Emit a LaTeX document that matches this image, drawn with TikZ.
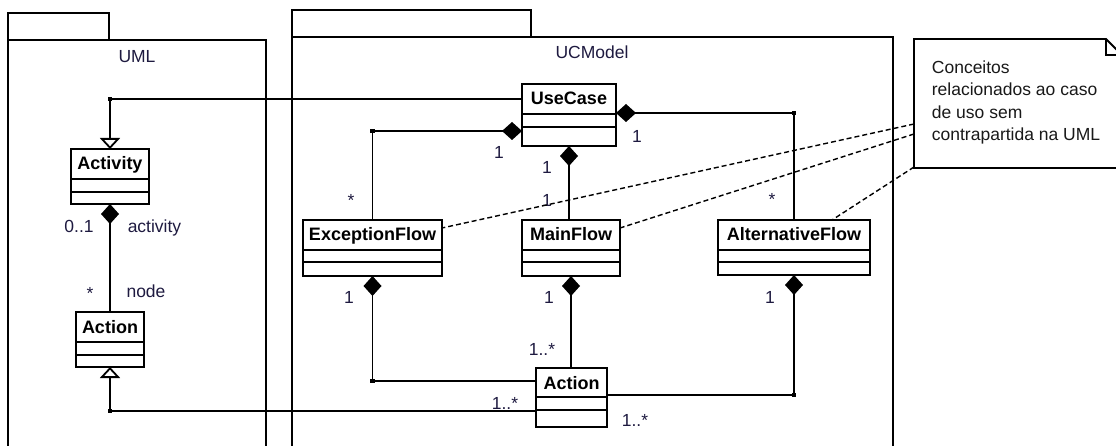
\documentclass[tikz,border=0pt]{standalone}
\usepackage{fontspec}
\setmainfont{Liberation Sans}
\usetikzlibrary{arrows.meta,calc}
\definecolor{ink}{HTML}{1E1A40}

\tikzset{
  pkg/.style={draw, rectangle, inner sep=0pt, outer sep=0pt},
  clsbox/.style={draw, fill=white, rectangle, inner sep=0pt, outer sep=0pt},
  clsname/.style={font=\bfseries\fontsize{18}{21}\selectfont, inner sep=0pt, anchor=base},
  lbl/.style={font=\fontsize{17.5}{21}\selectfont, text=ink, inner sep=0pt, anchor=base},
  notetext/.style={font=\fontsize{17.5}{22.6}\selectfont, align=left, inner sep=0pt, text=black!90},
  comp/.style={{Diamond[length=20pt,width=18pt]}-},
  gen/.style={-{Triangle[open,length=11pt,width=20pt]}},
  jdot/.style={rectangle, fill=black, inner sep=0pt, minimum size=4.5pt},
  notelink/.style={dash pattern=on 5pt off 3pt, line width=1.4pt},
}

% #1 name, #2 x, #3 y (top left), #4 width,
% #5 #6 #7 compartment heights, #8 class name
\newcommand{\umlclass}[8]{%
  \node[clsbox, anchor=north west, minimum width=#4pt,
        minimum height={#5pt+#6pt+#7pt}] (#1) at (#2,#3) {};
  \node[clsname] (#1-name) at ([yshift=-21pt]#1.north) {#8};
  \draw ([yshift=-#5pt]#1.north west) -- ([yshift=-#5pt]#1.north east);
  \draw ([yshift=-#5pt-#6pt]#1.north west) -- ([yshift=-#5pt-#6pt]#1.north east);
}

\begin{document}
\begin{tikzpicture}[x=1pt, y=-1pt, line width=1.8pt]
\useasboundingbox (0,0) rectangle (1116,446);
\clip (0,0) rectangle (1116,446);

% packages
\node[pkg, anchor=north west, minimum width=258pt, minimum height=440pt] (umlpkg) at (8,40) {};
\node[pkg, anchor=south west, minimum width=101pt, minimum height=27pt] (umltab) at (umlpkg.north west) {};
\node[lbl] (umllbl) at (137,63) {UML};

\node[pkg, anchor=north west, minimum width=601pt, minimum height=440pt] (ucpkg) at (292,37) {};
\node[pkg, anchor=south west, minimum width=239pt, minimum height=27pt] (uctab) at (ucpkg.north west) {};
\node[lbl] (uclbl) at (592,59) {UCModel};

% classes
\umlclass{act}{71}{149}{78}{30}{13}{12}{Activity}
\umlclass{uact}{76}{312}{68}{30}{13}{12}{Action}
\umlclass{uc}{522}{84}{94}{30}{13}{19}{UseCase}
\umlclass{ef}{303}{220}{139}{30}{12}{14}{ExceptionFlow}
\umlclass{mf}{522}{220}{98}{30}{12}{14}{MainFlow}
\umlclass{af}{718}{220}{152}{30}{12}{13}{AlternativeFlow}
\umlclass{ucact}{536}{368}{71}{29}{13}{17}{Action}

% attachment points on the class borders
\coordinate (ucg)  at ([yshift=-15pt]uc.north west);
\coordinate (ucl)  at ([yshift=15pt]uc.south west);
\coordinate (ucr)  at ([yshift=-29pt]uc.north east);
\coordinate (ucag) at ([yshift=16pt]ucact.south west);
\coordinate (ucaw) at ([yshift=-13pt]ucact.north west);
\coordinate (ucae) at ([yshift=-27pt]ucact.north east);

% generalizations
\draw[gen] (ucg) -- (ucg -| act.north) -- (act.north);
\draw[gen] (ucag) -- (ucag -| uact.south) -- (uact.south);

% compositions
\draw[comp] (act.south) -- (uact.north);
\draw[comp] (ucl) -- (ucl -| ef.north) -- (ef.north);
\draw[comp] (uc.south) -- (uc.south |- mf.north);
\draw[comp] (ucr) -- (ucr -| af.north) -- (af.north);
\draw[comp] (ef.south) -- (ef.south |- ucaw) -- (ucaw);
\draw[comp] (mf.south) -- (mf.south |- ucact.north);
\draw[comp] (af.south) -- (af.south |- ucae) -- (ucae);

% junction dots
\node[jdot] (j1) at (ucg -| act.north) {};
\node[jdot] (j2) at (ucag -| uact.south) {};
\node[jdot] (j3) at (ucl -| ef.north) {};
\node[jdot] (j4) at (ucr -| af.north) {};
\node[jdot] (j5) at (ef.south |- ucaw) {};
\node[jdot] (j6) at (af.south |- ucae) {};

% multiplicities and role names
\node[lbl] (m-act1) at (79,233) {0..1};
\node[lbl] (m-act2) at (154.5,233) {activity};
\node[lbl] (m-node1) at (90,300) {*};
\node[lbl] (m-node2) at (146,298) {node};
\node[lbl] (m-uc1) at (499,159) {1};
\node[lbl] (m-ef1) at (351,207) {*};
\node[lbl] (m-uc2) at (547,174) {1};
\node[lbl] (m-mf1) at (547,207) {1};
\node[lbl] (m-uc3) at (637,143) {1};
\node[lbl] (m-af1) at (772,206) {*};
\node[lbl] (m-ef2) at (349,304) {1};
\node[lbl] (m-mf2) at (549,304) {1};
\node[lbl] (m-af2) at (770,304) {1};
\node[lbl] (m-a1) at (542,355) {1..*};
\node[lbl] (m-a2) at (505,409) {1..*};
\node[lbl] (m-a3) at (635,426) {1..*};

% note with folded corner
\node[inner sep=0pt, outer sep=0pt, anchor=north west, minimum width=208pt, minimum height=129pt] (note) at (914,39) {};
\draw[fill=white] (note.north west) -- ([xshift=-16pt]note.north east)
  -- ([yshift=-16pt]note.north east) -- (note.south east) -- (note.south west) -- cycle;
\draw ([xshift=-16pt]note.north east) |- ([yshift=-16pt]note.north east);
\node[notetext, anchor=north west] (notetxt) at (931,59.5)
  {Conceitos\\relacionados ao caso\\de uso sem\\contrapartida na UML};

% note anchors
\draw[notelink] ([yshift=-85pt]note.north west) -- ([yshift=-8pt]ef.north east);
\draw[notelink] ([yshift=-95pt]note.north west) -- ([yshift=-8pt]mf.north east);
\draw[notelink] ([yshift=1pt]note.south west) -- ([xshift=38pt]af.north);
\end{tikzpicture}
\end{document}
